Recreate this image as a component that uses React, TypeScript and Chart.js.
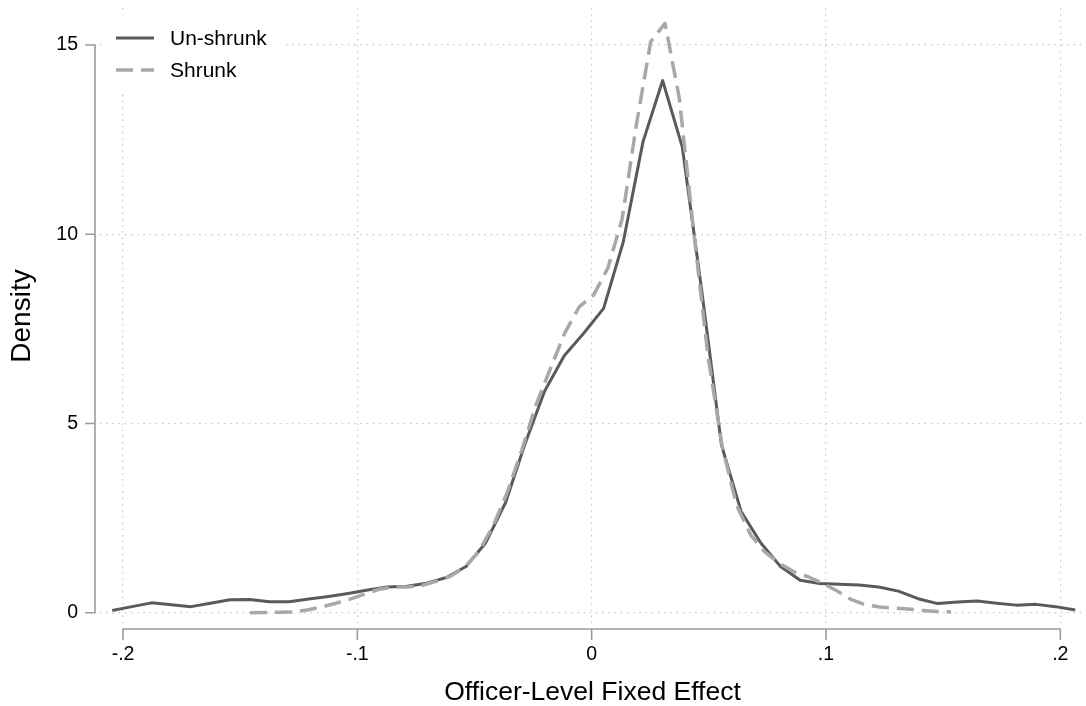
import React, { useEffect, useRef } from 'react';
import { Chart, registerables } from 'chart.js';

Chart.register(...registerables);

// ---- data ----
const unshrunkX = [
  -0.2046, -0.1962, -0.1878, -0.1794, -0.1710, -0.1627, -0.1543, -0.1459, -0.1375, -0.1291,
  -0.1207, -0.1123, -0.1039, -0.0956, -0.0872, -0.0788, -0.0704, -0.0620, -0.0536, -0.0452,
  -0.0368, -0.0285, -0.0201, -0.0117, -0.0033, 0.0051, 0.0135, 0.0219, 0.0303, 0.0387,
  0.0470, 0.0554, 0.0638, 0.0722, 0.0806, 0.0890, 0.0974, 0.1058, 0.1141, 0.1225,
  0.1309, 0.1393, 0.1477, 0.1561, 0.1645, 0.1729, 0.1812, 0.1896, 0.1980, 0.2064,
];
const unshrunkY = [
  0.06, 0.16, 0.26, 0.21, 0.16, 0.25, 0.34, 0.35, 0.29, 0.29,
  0.36, 0.43, 0.51, 0.60, 0.68, 0.70, 0.78, 0.93, 1.22, 1.85,
  2.9, 4.45, 5.85, 6.79, 7.39, 8.04, 9.8, 12.44, 14.06, 12.3,
  8.5, 4.43, 2.67, 1.84, 1.22, 0.86, 0.77, 0.75, 0.73, 0.68,
  0.57, 0.37, 0.24, 0.28, 0.31, 0.25, 0.20, 0.22, 0.16, 0.07,
];
const shrunkX = [
  -0.1458, -0.1397, -0.1336, -0.1275, -0.1214, -0.1153, -0.1092, -0.1031, -0.0969, -0.0908,
  -0.0847, -0.0786, -0.0725, -0.0664, -0.0603, -0.0542, -0.0481, -0.0420, -0.0359, -0.0298,
  -0.0237, -0.0176, -0.0114, -0.0053, 0.0008, 0.0069, 0.0130, 0.0191, 0.0252, 0.0313,
  0.0374, 0.0435, 0.0496, 0.0557, 0.0618, 0.0679, 0.0740, 0.0802, 0.0863, 0.0924,
  0.0985, 0.1046, 0.1107, 0.1168, 0.1229, 0.1290, 0.1351, 0.1412, 0.1473, 0.1534,
];
const shrunkY = [
  0.0, 0.005, 0.01, 0.02, 0.07, 0.15, 0.25, 0.36, 0.49, 0.62,
  0.68, 0.68, 0.72, 0.83, 0.96, 1.20, 1.62, 2.3, 3.2, 4.3,
  5.5, 6.45, 7.4, 8.08, 8.39, 9.1, 10.4, 12.9, 15.09, 15.57,
  13.6, 10.1, 6.8, 4.4, 2.85, 2.05, 1.6, 1.3, 1.08, 0.95,
  0.78, 0.58, 0.35, 0.21, 0.15, 0.12, 0.10, 0.055, 0.03, 0.02,
];
const seriesNames = ['Un-shrunk', 'Shrunk'];
const xTickValues = [-0.2, -0.1, 0, 0.1, 0.2];
const xTickLabels = ['-.2', '-.1', '0', '.1', '.2'];
const yTickValues = [0, 5, 10, 15];
const yTickLabels = ['0', '5', '10', '15'];
const xTitle = 'Officer-Level Fixed Effect';
const yTitle = 'Density';

// ---- styling ----
const FONT = '"Liberation Sans", Arial, Helvetica, sans-serif';
const AXIS_COLOR = '#9c9c9c';
const GRID_COLOR = '#c4c4c4';
const SOLID_COLOR = '#5a5a5a';
const DASH_COLOR = '#a8a8a8';
const DASH = [17, 8];

const stataAxes = {
  id: 'stataAxes',
  afterDraw(chart: any) {
    const { ctx, chartArea, scales } = chart;
    const x = scales.x;
    const y = scales.y;
    ctx.save();
    ctx.strokeStyle = AXIS_COLOR;
    ctx.lineWidth = 1.6;
    ctx.setLineDash([]);
    ctx.lineCap = 'butt';
    const axX = chartArea.left - 5;
    const axY = chartArea.bottom + 5;
    ctx.beginPath();
    ctx.moveTo(axX, y.getPixelForValue(yTickValues[0]) + 0.8);
    ctx.lineTo(axX, y.getPixelForValue(yTickValues[yTickValues.length - 1]) - 0.8);
    yTickValues.forEach((v) => {
      const py = y.getPixelForValue(v);
      ctx.moveTo(axX - 10, py);
      ctx.lineTo(axX, py);
    });
    ctx.moveTo(x.getPixelForValue(xTickValues[0]) - 0.8, axY);
    ctx.lineTo(x.getPixelForValue(xTickValues[xTickValues.length - 1]) + 0.8, axY);
    xTickValues.forEach((v) => {
      const px = x.getPixelForValue(v);
      ctx.moveTo(px, axY);
      ctx.lineTo(px, axY + 11);
    });
    ctx.stroke();
    ctx.restore();
  },
};

const stataLegend = {
  id: 'stataLegend',
  afterDatasetsDraw(chart: any) {
    const { ctx, chartArea } = chart;
    const left = chartArea.left + 2;
    const top = chartArea.top + 7;
    ctx.save();
    ctx.fillStyle = '#ffffff';
    ctx.fillRect(left, top, 180, 78);
    const rows = [
      { y: top + 23, ds: chart.data.datasets[0] },
      { y: top + 55, ds: chart.data.datasets[1] },
    ];
    rows.forEach((r, i) => {
      ctx.beginPath();
      ctx.strokeStyle = r.ds.borderColor;
      ctx.lineWidth = r.ds.borderWidth;
      ctx.setLineDash(r.ds.borderDash || []);
      ctx.moveTo(left + 14, r.y);
      ctx.lineTo(left + 52, r.y);
      ctx.stroke();
      ctx.setLineDash([]);
      ctx.fillStyle = '#000000';
      ctx.font = `21px ${FONT}`;
      ctx.textBaseline = 'middle';
      ctx.textAlign = 'left';
      ctx.fillText(seriesNames[i], left + 68, r.y + 1);
    });
    ctx.restore();
  },
};

export default function App() {
  const canvasRef = useRef<HTMLCanvasElement | null>(null);

  useEffect(() => {
    if (!canvasRef.current) return;
    const solidPts = unshrunkX.map((v, i) => ({ x: v, y: unshrunkY[i] }));
    const dashPts = shrunkX.map((v, i) => ({ x: v, y: shrunkY[i] }));

    const chart = new Chart(canvasRef.current, {
      type: 'line',
      data: {
        datasets: [
          {
            label: seriesNames[0],
            data: solidPts,
            borderColor: SOLID_COLOR,
            borderWidth: 3,
            pointRadius: 0,
            tension: 0,
            fill: false,
            borderJoinStyle: 'round',
            order: 1,
          },
          {
            label: seriesNames[1],
            data: dashPts,
            borderColor: DASH_COLOR,
            borderWidth: 3.5,
            borderDash: DASH,
            pointRadius: 0,
            tension: 0,
            fill: false,
            borderJoinStyle: 'round',
            order: 0,
          },
        ],
      },
      options: {
        animation: false,
        responsive: true,
        maintainAspectRatio: false,
        layout: { padding: { top: 8, right: 1, bottom: 0, left: 0 } },
        plugins: {
          legend: { display: false },
          tooltip: { enabled: false },
        },
        scales: {
          x: {
            type: 'linear',
            min: -0.20982,
            max: 0.21054,
            afterBuildTicks: (scale: any) => {
              scale.ticks = xTickValues.map((v) => ({ value: v }));
            },
            afterFit: (scale: any) => {
              scale.height = 82;
              scale.paddingLeft = 0;
              scale.paddingRight = 0;
            },
            ticks: {
              autoSkip: false,
              maxRotation: 0,
              padding: 19,
              color: '#000000',
              font: { family: FONT, size: 19.5 },
              callback: (value: any) => {
                const idx = xTickValues.findIndex((t) => Math.abs(t - Number(value)) < 1e-9);
                return idx >= 0 ? xTickLabels[idx] : '';
              },
            },
            grid: {
              color: GRID_COLOR,
              lineWidth: 1.2,
              drawTicks: false,
            },
            border: { display: false, dash: [1.4, 4.8] },
            title: {
              display: true,
              text: xTitle,
              color: '#000000',
              font: { family: FONT, size: 26.5, lineHeight: 1 },
              padding: { top: 0, bottom: 0 },
            },
          },
          y: {
            type: 'linear',
            min: -0.2986,
            max: 15.9776,
            afterBuildTicks: (scale: any) => {
              scale.ticks = yTickValues.map((v) => ({ value: v }));
            },
            afterFit: (scale: any) => {
              scale.width = 100;
              scale.paddingTop = 0;
              scale.paddingBottom = 0;
            },
            ticks: {
              autoSkip: false,
              padding: 22,
              color: '#000000',
              font: { family: FONT, size: 19.5 },
              callback: (value: any) => {
                const idx = yTickValues.findIndex((t) => Math.abs(t - Number(value)) < 1e-9);
                return idx >= 0 ? yTickLabels[idx] : '';
              },
            },
            grid: {
              color: GRID_COLOR,
              lineWidth: 1.2,
              drawTicks: false,
            },
            border: { display: false, dash: [1.4, 4.8] },
            title: {
              display: true,
              text: yTitle,
              color: '#000000',
              font: { family: FONT, size: 28, lineHeight: 1 },
              padding: { top: 8, bottom: 0 },
            },
          },
        },
      } as any,
      plugins: [stataAxes, stataLegend],
    });

    return () => {
      chart.destroy();
    };
  }, []);

  return (
    <div style={{ position: 'absolute', left: 0, top: 0, width: 1086, height: 706, background: '#ffffff' }}>
      <canvas ref={canvasRef} />
    </div>
  );
}
